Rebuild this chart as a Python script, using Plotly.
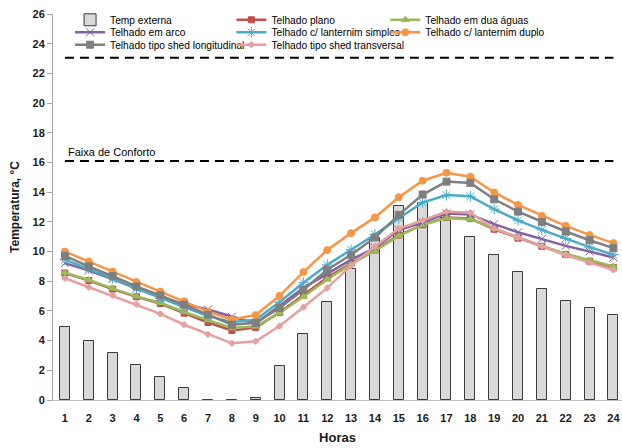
import plotly.graph_objects as go

horas = list(range(1, 25))

temp_externa = [4.9, 3.95, 3.15, 2.35, 1.55, 0.78, -0.05, -0.03, 0.12, 2.3, 4.45, 6.6,
                8.8, 10.9, 13.05, 13.3, 12.25, 11.0, 9.8, 8.65, 7.45, 6.7, 6.2, 5.75]
telhado_plano = [8.55, 8.05, 7.47, 6.95, 6.5, 5.85, 5.22, 4.68, 4.88, 5.9, 7.05, 8.25,
                 9.2, 10.1, 11.1, 11.8, 12.3, 12.22, 11.5, 10.9, 10.35, 9.8, 9.35, 8.92]
telhado_duas_aguas = [8.58, 8.08, 7.52, 6.98, 6.55, 5.93, 5.38, 4.85, 4.96, 5.86, 6.95, 8.12,
                      9.15, 10.05, 11.05, 11.8, 12.25, 12.18, 11.55, 10.95, 10.38, 9.85, 9.4, 9.0]
telhado_arco = [9.22, 8.72, 8.15, 7.5, 6.95, 6.45, 6.1, 5.6, 5.15, 6.35, 7.55, 8.5,
                9.45, 10.25, 11.45, 11.95, 12.56, 12.5, 11.85, 11.3, 10.85, 10.38, 10.0, 9.6]
lanternim_simples = [9.45, 8.85, 8.2, 7.5, 6.85, 6.25, 5.65, 5.25, 5.4, 6.6, 7.9, 9.1,
                     10.12, 11.15, 12.25, 13.3, 13.8, 13.72, 12.85, 12.1, 11.46, 10.88, 10.3, 9.78]
lanternim_duplo = [10.0, 9.33, 8.65, 7.95, 7.3, 6.65, 5.95, 5.42, 5.72, 7.02, 8.62, 10.1,
                   11.24, 12.3, 13.66, 14.77, 15.31, 15.04, 13.98, 13.14, 12.41, 11.73, 11.12, 10.57]
shed_longitudinal = [9.71, 9.0, 8.35, 7.65, 7.05, 6.42, 5.75, 5.07, 5.2, 6.2, 7.43, 8.77,
                     9.78, 10.95, 12.47, 13.84, 14.71, 14.62, 13.52, 12.69, 12.0, 11.35, 10.76, 10.23]
shed_transversal = [8.2, 7.6, 7.05, 6.45, 5.8, 5.07, 4.42, 3.82, 3.95, 4.98, 6.25, 7.55,
                    9.05, 10.34, 11.55, 12.09, 12.69, 12.62, 11.55, 10.95, 10.35, 9.75, 9.25, 8.77]

conforto_sup = 23.05
conforto_inf = 16.1
conforto_horas = [1, 24]

y_ticks = list(range(0, 27, 2))

FONT = "Liberation Sans Narrow, Arial Narrow, Liberation Sans, sans-serif"

series = [
    ("Telhado plano", telhado_plano, "#C0504D", "square", 6),
    ("Telhado em dua águas", telhado_duas_aguas, "#9BBB59", "triangle-up", 7),
    ("Telhado em arco", telhado_arco, "#8064A2", "x-thin-open", 8),
    ("Telhado c/ lanternim simples", lanternim_simples, "#4BACC6", "asterisk-open", 9),
    ("Telhado c/ lanternim duplo", lanternim_duplo, "#F79646", "circle", 7),
    ("Telhado tipo shed longitudinal", shed_longitudinal, "#7F7F7F", "square", 7),
    ("Telhado tipo shed transversal", shed_transversal, "#E6A0A0", "diamond", 5),
]

# legend grid: column x (paper) and row y (paper)
col_x = [0.030, 0.3135, 0.584]
row_y = [0.985, 0.9525, 0.9205]

fig = go.Figure()

legend_layouts = {}


def legend_name(i):
    return "legend" if i == 0 else f"legend{i + 1}"


def add_legend(i):
    r, c = divmod(i, 3)
    legend_layouts[legend_name(i)] = dict(
        orientation="h", xanchor="left", yanchor="middle", x=col_x[c], y=row_y[r],
        font=dict(family=FONT, size=10.2, color="#000000"),
        bgcolor="rgba(0,0,0,0)", itemwidth=30,
    )


fig.add_trace(go.Bar(
    x=horas, y=temp_externa, name="Temp externa", width=0.42,
    marker=dict(color="#D9D9D9", line=dict(color="#3A3A3A", width=1)),
    legend=legend_name(0),
))
add_legend(0)

for k, (name, vals, color, sym, size) in enumerate(series, start=1):
    fig.add_trace(go.Scatter(
        x=horas, y=vals, name=name, mode="lines+markers",
        line=dict(color=color, width=2.5),
        marker=dict(symbol=sym, size=size, color=color, line=dict(color=color, width=1)),
        legend=legend_name(k),
    ))
    add_legend(k)

for val in (conforto_sup, conforto_inf):
    fig.add_trace(go.Scatter(
        x=conforto_horas, y=[val, val], mode="lines", showlegend=False, hoverinfo="skip",
        line=dict(color="black", width=2, dash="9px,6px"),
    ))

fig.add_annotation(
    x=1.05, y=conforto_inf, xref="x", yref="y", text="Faixa de Conforto",
    showarrow=False, xanchor="left", yanchor="bottom", yshift=1,
    font=dict(family=FONT, size=11, color="#000000"),
)

fig.update_layout(
    width=622, height=448,
    margin=dict(l=53, r=0, t=14, b=48, autoexpand=False),
    paper_bgcolor="white", plot_bgcolor="white",
    showlegend=True,
    xaxis=dict(
        range=[0.5, 24.36], tickmode="array", tickvals=horas, ticktext=[str(h) for h in horas],
        showline=True, linecolor="#BFBFBF", linewidth=1, ticks="", showgrid=False, zeroline=False,
        automargin=False,
        tickfont=dict(family=FONT, size=11, color="#1a1a1a", weight="bold"),
        ticklabelstandoff=8,
        title=dict(text="Horas", font=dict(family=FONT, size=13, color="#1a1a1a", weight="bold"),
                   standoff=9),
    ),
    yaxis=dict(
        range=[0, 26], tickmode="array", tickvals=y_ticks,
        showline=True, linecolor="#A6A6A6", linewidth=1, ticks="outside", ticklen=5,
        tickcolor="#A6A6A6", showgrid=False, zeroline=False, automargin=False,
        tickfont=dict(family=FONT, size=11, color="#1a1a1a", weight="bold"),
        title=dict(text="Temperatura, °C", font=dict(family=FONT, size=12, color="#1a1a1a", weight="bold"),
                   standoff=10),
    ),
    bargap=0,
    **legend_layouts,
)

fig.write_html(
    "out.html",
    config={"displayModeBar": False},
    post_script="document.body.style.margin='0';document.body.style.overflow='hidden';",
)
